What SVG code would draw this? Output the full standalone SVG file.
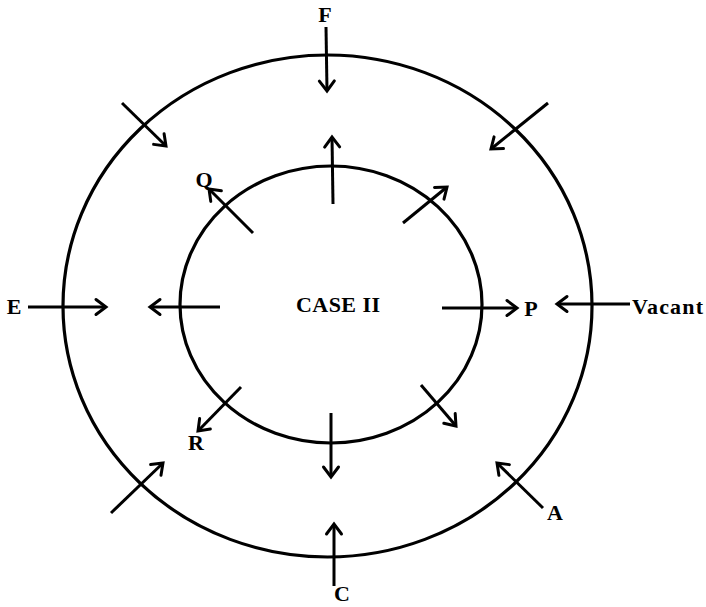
<svg xmlns="http://www.w3.org/2000/svg" width="706" height="607" viewBox="0 0 706 607">
<defs>
<marker id="ah" markerUnits="userSpaceOnUse" markerWidth="24" markerHeight="24" viewBox="-14 -12 24 24" refX="0" refY="0" orient="auto">
<path d="M-10,-7.5 L0,0 L-10,7.5" fill="none" stroke="#000" stroke-width="3" stroke-linecap="round" stroke-linejoin="miter"/>
</marker>
<style>
.ring{fill:none;stroke:#000;stroke-width:3.2}
.arr{stroke:#000;stroke-width:3;fill:none;marker-end:url(#ah)}
.lbl{font-family:"Liberation Serif","Times New Roman",serif;font-weight:bold;font-size:22px;fill:#000;text-anchor:middle}
</style>
</defs>
<rect width="706" height="607" fill="#fff"/>
<g id="outer"><ellipse class="ring" cx="327.5" cy="306" rx="264.5" ry="251"/></g>
<g id="inner"><ellipse class="ring" cx="331" cy="304.5" rx="151" ry="138.5"/></g>
<g id="center"><text class="lbl" x="338" y="312" textLength="84">CASE II</text></g>
<g id="F"><text class="lbl" x="325" y="22">F</text></g>
<g id="E"><text class="lbl" x="14" y="314">E</text></g>
<g id="P"><text class="lbl" x="531" y="316">P</text></g>
<g id="Vacant"><text class="lbl" x="632" y="314" style="text-anchor:start" textLength="71">Vacant</text></g>
<g id="Q"><text class="lbl" x="204" y="187">Q</text></g>
<g id="R"><text class="lbl" x="196" y="450">R</text></g>
<g id="A"><text class="lbl" x="555" y="520">A</text></g>
<g id="C"><text class="lbl" x="342" y="601">C</text></g>
<g id="connectors">
<line class="arr" x1="326" y1="27" x2="327" y2="91"/>
<line class="arr" x1="122" y1="103" x2="166" y2="146"/>
<line class="arr" x1="548" y1="103" x2="491" y2="149"/>
<line class="arr" x1="333" y1="204" x2="332" y2="137"/>
<line class="arr" x1="253" y1="233" x2="209" y2="189"/>
<line class="arr" x1="403" y1="223" x2="447" y2="187"/>
<line class="arr" x1="28" y1="307" x2="106" y2="307"/>
<line class="arr" x1="220" y1="307" x2="150" y2="307"/>
<line class="arr" x1="442" y1="308" x2="517" y2="308"/>
<line class="arr" x1="630" y1="304" x2="557" y2="304"/>
<line class="arr" x1="241" y1="387" x2="198" y2="431"/>
<line class="arr" x1="421" y1="385" x2="456" y2="426"/>
<line class="arr" x1="331" y1="413" x2="331" y2="477"/>
<line class="arr" x1="111" y1="513" x2="163" y2="463"/>
<line class="arr" x1="543" y1="508" x2="497" y2="463"/>
<line class="arr" x1="334" y1="586" x2="334" y2="524"/>
</g>
</svg>
